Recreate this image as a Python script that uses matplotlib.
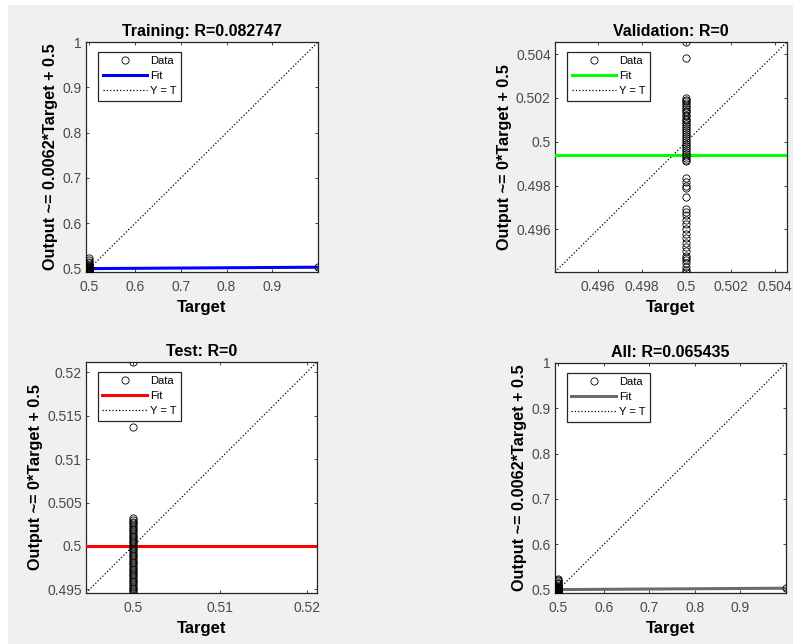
import matplotlib
matplotlib.use("Agg")
import matplotlib.pyplot as plt
import numpy as np
from matplotlib.patches import Rectangle

plt.rcParams["font.family"] = ["Liberation Sans", "DejaVu Sans"]

# ---- data (targets are 0.5 / 1, outputs ~0.5) ----
train_out_05 = [0.5240, 0.5185, 0.5150, 0.5120, 0.5090, 0.5060, 0.5045, 0.5030,
                0.5020, 0.5010, 0.5000, 0.4990, 0.4980, 0.4970, 0.4960, 0.4950,
                0.4940, 0.4925]
train_out_1 = [0.5025]

val_out_05 = [0.50455, 0.50382,
              0.50200, 0.50192, 0.50184, 0.50176, 0.50168, 0.50160, 0.50150, 0.50142,
              0.50134, 0.50124, 0.50116, 0.50106, 0.50098, 0.50088, 0.50080, 0.50070,
              0.50062, 0.50052, 0.50044, 0.50034, 0.50026, 0.50016, 0.50008, 0.49998,
              0.49990, 0.49980, 0.49972, 0.49962, 0.49954, 0.49944, 0.49936, 0.49926,
              0.49918, 0.49910,
              0.49833, 0.49815, 0.49800, 0.49790, 0.49750,
              0.49695, 0.49680, 0.49665, 0.49645, 0.49625, 0.49600, 0.49580, 0.49560,
              0.49540, 0.49520, 0.49500, 0.49480, 0.49470, 0.49460, 0.49445, 0.49430,
              0.49415, 0.49406]

test_out_05 = [0.52119, 0.51370,
               0.50318, 0.50300, 0.50280, 0.50260, 0.50240, 0.50220, 0.50200, 0.50180,
               0.50160, 0.50140, 0.50120, 0.50100, 0.50080, 0.50060, 0.50040, 0.50020,
               0.50000, 0.49980, 0.49960, 0.49940, 0.49920, 0.49900, 0.49880, 0.49860,
               0.49840, 0.49820, 0.49800, 0.49780, 0.49760, 0.49740, 0.49720, 0.49700,
               0.49680, 0.49660, 0.49640, 0.49620, 0.49600, 0.49580, 0.49560, 0.49540,
               0.49520, 0.49500, 0.49480, 0.49458]

# fit: Output = m*Target + b
fit_train = (0.0062, 0.4969)
fit_val = (0.0, 0.49941)
fit_test = (0.0, 0.5000)
fit_all = (0.0062, 0.4969)

titles = ["Training: R=0.082747", "Validation: R=0", "Test: R=0", "All: R=0.065435"]
ylabels = ["Output ~= 0.0062*Target + 0.5", "Output ~= 0*Target + 0.5",
           "Output ~= 0*Target + 0.5", "Output ~= 0.0062*Target + 0.5"]
fit_colors = ["#0000ff", "#00ff00", "#ff0000", "#6b6b6b"]

wide_ticks = [0.5, 0.6, 0.7, 0.8, 0.9, 1.0]
wide_xlabels = ["0.5", "0.6", "0.7", "0.8", "0.9", ""]
wide_ylabels = ["0.5", "0.6", "0.7", "0.8", "0.9", "1"]
val_ticks = [0.496, 0.498, 0.5, 0.502, 0.504]
val_labels = ["0.496", "0.498", "0.5", "0.502", "0.504"]
test_xticks = [0.5, 0.51, 0.52]
test_xlabels = ["0.5", "0.51", "0.52"]
test_yticks = [0.495, 0.5, 0.505, 0.51, 0.515, 0.52]
test_ylabels = ["0.495", "0.5", "0.505", "0.51", "0.515", "0.52"]

all_out_05 = train_out_05 + val_out_05 + test_out_05
all_out_1 = train_out_1

panels = [
    dict(t=[0.5] * len(train_out_05) + [1.0] * len(train_out_1), y=train_out_05 + train_out_1,
         fit=fit_train, xt=(wide_ticks, wide_xlabels), yt=(wide_ticks, wide_ylabels)),
    dict(t=[0.5] * len(val_out_05), y=val_out_05, fit=fit_val,
         xt=(val_ticks, val_labels), yt=(val_ticks, val_labels)),
    dict(t=[0.5] * len(test_out_05), y=test_out_05, fit=fit_test,
         xt=(test_xticks, test_xlabels), yt=(test_yticks, test_ylabels)),
    dict(t=[0.5] * len(all_out_05) + [1.0] * len(all_out_1), y=all_out_05 + all_out_1,
         fit=fit_all, xt=(wide_ticks, wide_xlabels), yt=(wide_ticks, wide_ylabels)),
]

W, H = 793, 644
fig = plt.figure(figsize=(W / 100, H / 100), dpi=100, facecolor="white")
fig.patches.append(Rectangle((8 / W, 0), 1 - 8 / W, 1 - 5 / H, transform=fig.transFigure,
                             facecolor="#f0f0f0", edgecolor="none", zorder=-10))

# axes boxes in pixels: left, top, right, bottom
boxes = [(86, 42, 318, 272), (555, 42, 787, 272), (86, 362, 317, 593), (555, 363, 786, 593)]

edge = "#262626"
for i, (p, (l, t, r, b)) in enumerate(zip(panels, boxes)):
    ax = fig.add_axes([l / W, 1 - b / H, (r - l) / W, (b - t) / H])
    tgt = np.array(p["t"])
    out = np.array(p["y"])
    lo = min(tgt.min(), out.min())
    hi = max(tgt.max(), out.max())
    lim = np.array([lo, hi])
    m, c = p["fit"]
    ax.plot(lim, lim, ":", color="black", lw=0.9, label="Y = T", zorder=2)
    ax.plot(lim, m * lim + c, "-", color=fit_colors[i], lw=2.2, label="Fit", zorder=3)
    ax.plot(tgt, out, "o", mfc="none", mec="black", ms=5.2, mew=0.6, label="Data", zorder=4)
    ax.set_xlim(lim)
    ax.set_ylim(lim)
    ax.set_xticks(p["xt"][0], labels=p["xt"][1])
    ax.set_yticks(p["yt"][0], labels=p["yt"][1])
    ax.tick_params(direction="in", top=True, right=True, length=2.5, width=0.6,
                   labelsize=10, labelcolor="#4a4a4a", color=edge, pad=3)
    ax.tick_params(axis="x", pad=6)
    for s in ax.spines.values():
        s.set_color(edge)
        s.set_linewidth(0.9)
    ax.set_title(titles[i], fontsize=11.5, fontweight="bold", pad=4)
    ax.set_xlabel("Target", fontsize=12, fontweight="bold", labelpad=4)
    ax.set_ylabel(ylabels[i], fontsize=11.7, fontweight="bold", labelpad=3)
    h, lab = ax.get_legend_handles_labels()
    leg = ax.legend(h[::-1], lab[::-1], loc="upper left", bbox_to_anchor=(0.052, 0.957),
                    borderaxespad=0, fontsize=8, fancybox=False, framealpha=1,
                    edgecolor=edge, numpoints=1, handlelength=4.0, handletextpad=0.3,
                    borderpad=0.4, labelspacing=0.45)
    leg.get_frame().set_linewidth(0.9)
    leg.set_zorder(10)

fig.savefig("out.png", dpi=100, facecolor=fig.get_facecolor())
